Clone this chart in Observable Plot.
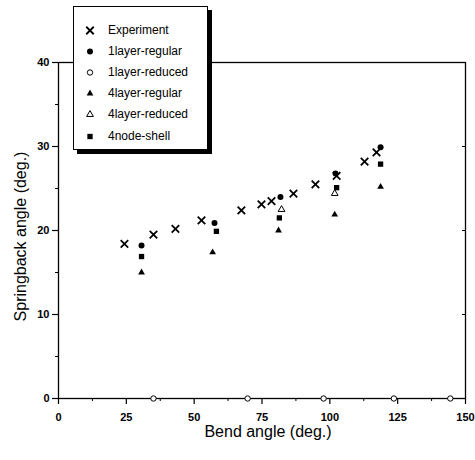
<!DOCTYPE html>
<html><head><meta charset="utf-8">
<script src="https://cdn.jsdelivr.net/npm/d3@7"></script>
<script src="https://cdn.jsdelivr.net/npm/@observablehq/plot@0.6"></script>
<style>
body{margin:0;background:#fff;font-family:"Liberation Sans",Arial,sans-serif;}
#wrap{position:relative;width:475px;height:460px;}
#legend{position:absolute;left:73px;top:6px;width:135px;height:144px;box-sizing:border-box;background:#fff;border:1px solid #000;box-shadow:4px 4px 0 #000;}
#legend .row{position:absolute;left:0;height:21px;line-height:21px;font-size:12px;color:#000;white-space:nowrap;}
#legend .row svg{position:absolute;left:9px;top:0;}
#legend .row span{position:absolute;left:34px;top:0;}
</style></head><body><div id="wrap"></div>
<script>
// ---- data ----
const seriesNames = ["Experiment","1layer-regular","1layer-reduced","4layer-regular","4layer-reduced","4node-shell"];
const experimentX = [24.3,35.0,43.1,52.7,67.4,74.8,78.5,86.6,94.7,102.5,112.8,117.2];
const experimentY = [18.4,19.5,20.2,21.2,22.4,23.1,23.5,24.4,25.5,26.5,28.2,29.3];
const layer1RegularX = [30.6,57.5,81.8,102.1,118.7];
const layer1RegularY = [18.2,20.9,24.0,26.8,29.9];
const layer1ReducedX = [35.0,69.7,97.7,123.6,144.4];
const layer1ReducedY = [0,0,0,0,0];
const layer4RegularX = [30.6,56.8,81.1,101.8,118.7];
const layer4RegularY = [15.0,17.4,20.0,21.9,25.2];
const layer4ReducedX = [82.2,101.8];
const layer4ReducedY = [22.5,24.4];
const shellX = [30.6,58.2,81.4,102.5,118.7];
const shellY = [16.9,19.9,21.5,25.1,27.9];
const xTicks = [0,25,50,75,100,125,150];
const xMinor = [12.5,37.5,62.5,87.5,112.5,137.5];
const yTicks = [0,10,20,30,40];
const yMinor = [5,15,25,35];
const xTitle = "Bend angle (deg.)";
const yTitle = "Springback angle (deg.)";

const pts = (xs, ys) => xs.map((x, i) => ({x, y: ys[i]}));

// symbol styles per series
const styles = [
  {symbol:"times", r:3.5, fill:"none", stroke:"#000", strokeWidth:1.8},
  {symbol:"circle", r:3, fill:"#000", stroke:"none", strokeWidth:0},
  {symbol:"circle", r:2.7, fill:"#fff", stroke:"#000", strokeWidth:1},
  {symbol:"triangle", r:2.5, fill:"#000", stroke:"none", strokeWidth:0},
  {symbol:"triangle", r:2.5, fill:"#fff", stroke:"#000", strokeWidth:1},
  {symbol:"square", r:3, fill:"#000", stroke:"none", strokeWidth:0}
];
const seriesData = [
  pts(experimentX, experimentY),
  pts(layer1RegularX, layer1RegularY),
  pts(layer1ReducedX, layer1ReducedY),
  pts(layer4RegularX, layer4RegularY),
  pts(layer4ReducedX, layer4ReducedY),
  pts(shellX, shellY)
];
const drawOrder = [2,4,3,5,1,0];

const chart = Plot.plot({
  width: 475, height: 460,
  marginLeft: 58, marginRight: 10, marginTop: 62, marginBottom: 62,
  x: {domain: [0,150]},
  y: {domain: [0,40]},
  style: {fontFamily: "'Liberation Sans', Arial, sans-serif", fontSize: "11px", color: "#000", background: "#fff"},
  marks: [
    Plot.frame({stroke: "#000", strokeWidth: 1.3}),
    Plot.axisX({ticks: xTicks, tickSize: 6, tickPadding: 9, fontWeight: "bold", label: null, strokeWidth: 1.2}),
    Plot.axisX({ticks: xMinor, tickSize: 3, text: null, label: null}),
    Plot.axisY({ticks: yTicks, tickSize: 6, tickPadding: 3, fontWeight: "bold", label: null, strokeWidth: 1.2}),
    Plot.axisY({ticks: yMinor, tickSize: 3, text: null, label: null}),
    Plot.axisY({anchor: "right", ticks: [10,20,30], tickSize: 4, dx: -4, text: null, label: null}),
    ...drawOrder.map(i => Plot.dot(seriesData[i], {x: "x", y: "y", ...styles[i]})),
    Plot.text([xTitle], {frameAnchor: "bottom", lineAnchor: "middle", textAnchor: "middle", dy: 33, dx: 6, fontSize: 16}),
    Plot.text([yTitle], {frameAnchor: "left", lineAnchor: "middle", textAnchor: "middle", dx: -38, dy: 6, rotate: -90, fontSize: 16})
  ]
});

const wrap = document.getElementById("wrap");
wrap.appendChild(chart);

// legend overlay
const legend = document.createElement("div");
legend.id = "legend";
seriesNames.forEach((name, i) => {
  const st = styles[i];
  const row = document.createElement("div");
  row.className = "row";
  row.style.top = (12.5 + 21.2 * i) + "px";
  const svg = d3.create("svg").attr("width", 14).attr("height", 21);
  const symMap = {times: d3.symbolTimes, circle: d3.symbolCircle, triangle: d3.symbolTriangle, square: d3.symbolSquare};
  svg.append("path")
    .attr("transform", "translate(7,10.5)")
    .attr("d", d3.symbol(symMap[st.symbol], Math.PI * st.r * st.r)())
    .attr("fill", st.fill).attr("stroke", st.stroke).attr("stroke-width", st.strokeWidth);
  row.appendChild(svg.node());
  const span = document.createElement("span");
  span.textContent = name;
  row.appendChild(span);
  legend.appendChild(row);
});
wrap.appendChild(legend);
</script>
</body></html>
